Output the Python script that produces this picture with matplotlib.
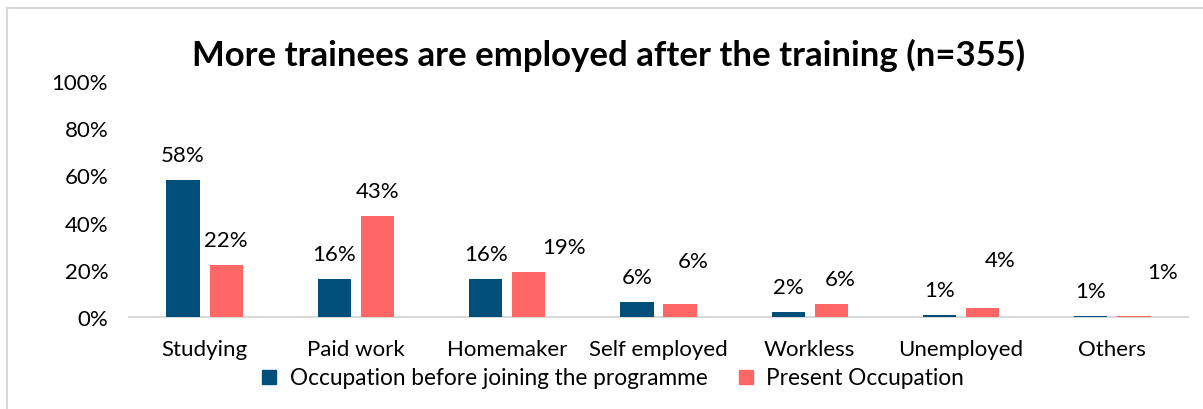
import matplotlib
matplotlib.use("Agg")
import matplotlib.pyplot as plt
from matplotlib.lines import Line2D
import numpy as np

categories = ["Studying", "Paid work", "Homemaker", "Self employed",
              "Workless", "Unemployed", "Others"]
before = [58, 16, 16, 6.2, 2.2, 1, 0.6]
present = [22, 43, 19, 5.7, 5.6, 4, 0.6]
series_names = ["Occupation before joining the programme", "Present Occupation"]
title = "More trainees are employed after the training (n=355)"
yticks = [0, 20, 40, 60, 80, 100]

# manual nudges (pixels) for the "present" value labels
label_nudge = [(0, 0), (0, 0), (35, 0), (13, 18), (9, 0), (17, 23), (29, 19)]

BLUE = "#004F7A"
RED = "#FF6666"
GRID = "#D9D9D9"
FONT = "Lato"
FS = 16

plt.rcParams["font.family"] = [FONT, "DejaVu Sans"]

W, H = 1203, 410
fig = plt.figure(figsize=(W / 100, H / 100), dpi=100)
ax = fig.add_axes([129 / W, 1 - 318 / H, (1188 - 129) / W, (318 - 82) / H])

x = np.arange(len(categories))
bw = 0.22
off = 0.143
b1 = ax.bar(x - off, before, bw, color=BLUE, linewidth=0, zorder=3)
b2 = ax.bar(x + off, present, bw, color=RED, linewidth=0, zorder=3)

for rect, v in zip(b1, before):
    ax.annotate(f"{v:.0f}%", (rect.get_x() + rect.get_width() / 2, rect.get_height()),
                xytext=(0, 25), textcoords="offset pixels", ha="center", va="center",
                fontsize=FS, color="#000000")
for rect, v, (dx, dy) in zip(b2, present, label_nudge):
    ax.annotate(f"{v:.0f}%", (rect.get_x() + rect.get_width() / 2, rect.get_height()),
                xytext=(dx, 25 + dy), textcoords="offset pixels", ha="center", va="center",
                fontsize=FS, color="#000000")

ax.set_xlim(-0.5, len(categories) - 0.5)
ax.set_ylim(0, 100)
ax.set_yticks(yticks)
ax.set_yticklabels([f"{t}%" for t in yticks])
ax.set_xticks(x)
ax.set_xticklabels(categories)
ax.tick_params(axis="both", length=0, labelsize=FS, colors="#000000")
ax.tick_params(axis="y", pad=15)
ax.tick_params(axis="x", pad=16)
for s in ["top", "right", "left"]:
    ax.spines[s].set_visible(False)
ax.spines["bottom"].set_color(GRID)
ax.spines["bottom"].set_linewidth(1.5)
ax.spines["bottom"].set_zorder(2)

fig.text(609 / W, 1 - 55 / H, title, ha="center", va="center",
         fontsize=25, fontweight="bold", color="#000000")

handles = [Line2D([], [], marker="s", linestyle="none", markersize=9.5,
                  markerfacecolor=c, markeredgecolor=c) for c in (BLUE, RED)]
fig.legend(handles, series_names, loc="center", bbox_to_anchor=(612 / W, 1 - 379 / H),
           ncol=2, frameon=False, fontsize=16.3, handlelength=0.8,
           handletextpad=0.5, columnspacing=1.3, borderaxespad=0)

# chart-area border (left and top edges)
fig.add_artist(Line2D([7 / W, 7 / W], [0, 1 - 9 / H], transform=fig.transFigure,
                      color=GRID, linewidth=1.5))
fig.add_artist(Line2D([7 / W, 1], [1 - 9 / H, 1 - 9 / H], transform=fig.transFigure,
                      color=GRID, linewidth=1.5))

fig.savefig("out.png", dpi=100)
